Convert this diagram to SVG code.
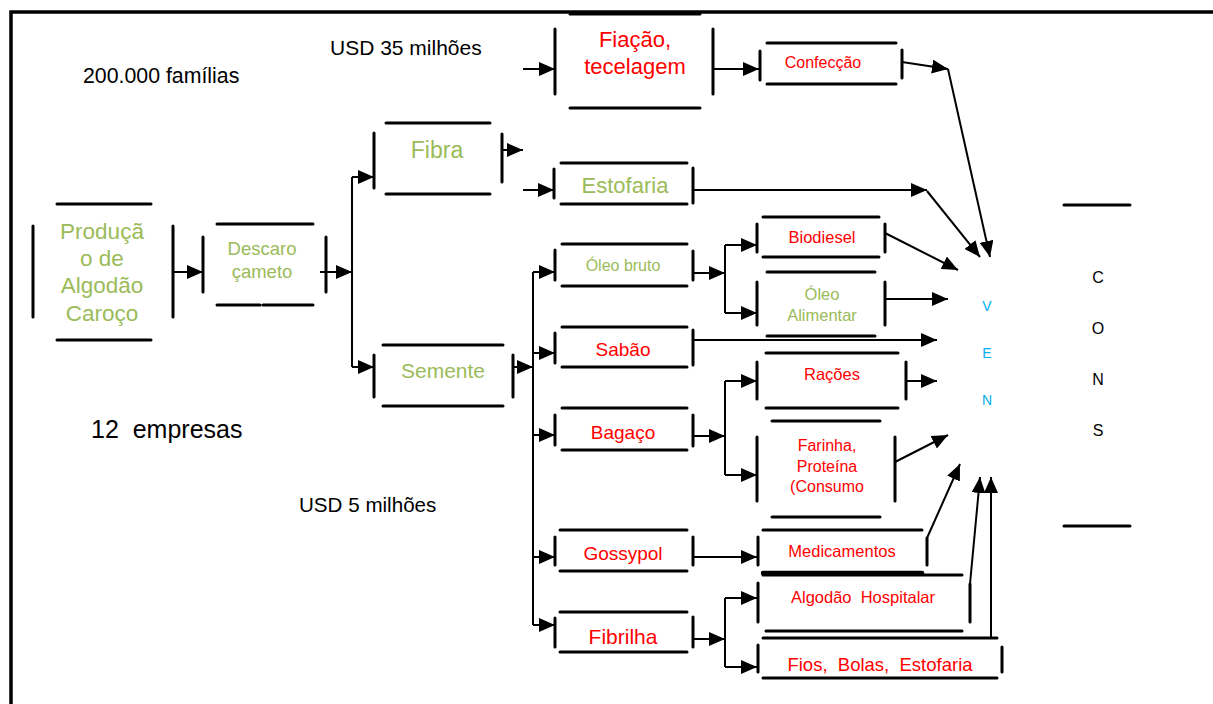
<svg xmlns="http://www.w3.org/2000/svg" width="1213" height="704" viewBox="0 0 1213 704">
<style>
.b{stroke:#000;stroke-width:3;stroke-linecap:round;fill:none}
.c{stroke:#000;stroke-width:2;fill:none}
.t{font-family:"Liberation Sans",Arial,sans-serif;text-anchor:middle}
.g{fill:#9BBB59}
.r{fill:#FF0000}
.k{fill:#000}
.v{fill:#00B0F0}
.n{font-family:"Liberation Sans",Arial,sans-serif;fill:#000}
</style>
<defs>
<marker id="a" markerUnits="userSpaceOnUse" markerWidth="16" markerHeight="14" refX="16" refY="7" orient="auto">
<path d="M0,0 L16,7 L0,14 z" fill="#000"/>
</marker>
</defs>
<rect width="1213" height="704" fill="#fff"/>
<path d="M11,704 V12 H1213" stroke="#000" stroke-width="3.5" fill="none"/>

<text class="n" x="83" y="83" font-size="21.3">200.000 famílias</text>
<text class="n" x="330" y="55" font-size="21">USD 35 milhões</text>
<text class="n" x="91" y="438" font-size="25" xml:space="preserve">12  empresas</text>
<text class="n" x="299" y="512" font-size="20.6">USD 5 milhões</text>

<g id="connectors">
<path class="c" d="M173,272 H203" marker-end="url(#a)"/>
<path class="c" d="M320,272 H352" marker-end="url(#a)"/>
<path class="c" d="M352,177 V367"/>
<path class="c" d="M352,177 H374" marker-end="url(#a)"/>
<path class="c" d="M352,367 H374" marker-end="url(#a)"/>
<path class="c" d="M502,150 H523" marker-end="url(#a)"/>
<path class="c" d="M523,69 H555" marker-end="url(#a)"/>
<path class="c" d="M523,190 H554" marker-end="url(#a)"/>
<path class="c" d="M713,69 H759" marker-end="url(#a)"/>
<path class="c" d="M902,62 L948,69" marker-end="url(#a)"/>
<path class="c" d="M948,69 L990,257" marker-end="url(#a)"/>
<path class="c" d="M693,190 H927" marker-end="url(#a)"/>
<path class="c" d="M927,191 L980,257" marker-end="url(#a)"/>
<path class="c" d="M513,367 H533"  marker-end="url(#a)"/>
<path class="c" d="M533,272 V625"/>
<path class="c" d="M533,272 H555" marker-end="url(#a)"/>
<path class="c" d="M533,353 H555" marker-end="url(#a)"/>
<path class="c" d="M533,435 H555" marker-end="url(#a)"/>
<path class="c" d="M533,557 H555" marker-end="url(#a)"/>
<path class="c" d="M533,625 H555" marker-end="url(#a)"/>
<path class="c" d="M693,273 H725" marker-end="url(#a)"/>
<path class="c" d="M725,245 V313"/>
<path class="c" d="M725,245 H757" marker-end="url(#a)"/>
<path class="c" d="M725,313 H757" marker-end="url(#a)"/>
<path class="c" d="M693,340 H937" marker-end="url(#a)"/>
<path class="c" d="M693,436 H725" marker-end="url(#a)"/>
<path class="c" d="M725,381 V475"/>
<path class="c" d="M725,381 H757" marker-end="url(#a)"/>
<path class="c" d="M725,475 H757" marker-end="url(#a)"/>
<path class="c" d="M693,557 H757" marker-end="url(#a)"/>
<path class="c" d="M693,639 H725" marker-end="url(#a)"/>
<path class="c" d="M725,598 V667"/>
<path class="c" d="M725,598 H757" marker-end="url(#a)"/>
<path class="c" d="M725,667 H757" marker-end="url(#a)"/>
<path class="c" d="M885,233 L958,270" marker-end="url(#a)"/>
<path class="c" d="M885,299 H948" marker-end="url(#a)"/>
<path class="c" d="M906,381 H937" marker-end="url(#a)"/>
<path class="c" d="M895,462 L948,435" marker-end="url(#a)"/>
<path class="c" d="M927,538 L960,464" marker-end="url(#a)"/>
<path class="c" d="M970,584 L980,477" marker-end="url(#a)"/>
<path class="c" d="M991,638 V477" marker-end="url(#a)"/>
</g>

<g id="producao">
<path class="b" d="M57,204 H151 M57,340 H151 M33,226 V317 M173,226 V317"/>
<text class="t g" x="102" font-size="22.5"><tspan x="102" y="239">Produçã</tspan><tspan x="102" y="266">o de</tspan><tspan x="102" y="293">Algodão</tspan><tspan x="102" y="321">Caroço</tspan></text>
</g>
<g id="descarocamento">
<path class="b" d="M217,224 H313 M217,305 H260 M263,305 H313 M203,237 V292 M326,237 V292"/>
<text class="t g" x="262" font-size="18.5"><tspan x="262" y="255">Descaro</tspan><tspan x="262" y="278">çameto</tspan></text>
</g>
<g id="fibra">
<path class="b" d="M386,123 H490 M386,194 H490 M374,133 V188 M502,134 V182"/>
<text class="t g" x="437" y="158" font-size="23">Fibra</text>
</g>
<g id="fiacao">
<path class="b" d="M570,14 H700 M570,108 H700 M555,29 V94 M713,29 V94"/>
<text class="t r" x="635" font-size="22"><tspan x="635" y="47">Fiação,</tspan><tspan x="635" y="74">tecelagem</tspan></text>
</g>
<g id="confeccao">
<path class="b" d="M767,43 H896 M767,84 H896 M760,51 V80 M902,50 V78"/>
<text class="t r" x="823" y="68" font-size="16">Confecção</text>
</g>
<g id="estofaria">
<path class="b" d="M561,163 H687 M561,204 H687 M554,169 V198 M693,168 V203"/>
<text class="t g" x="625" y="193" font-size="22">Estofaria</text>
</g>
<g id="semente">
<path class="b" d="M383,345 H503 M383,406 H503 M374,355 V397 M513,355 V397"/>
<text class="t g" x="443" y="378" font-size="21">Semente</text>
</g>
<g id="oleo-bruto">
<path class="b" d="M562,244 H687 M562,286 H687 M555,250 V280 M693,251 V280"/>
<text class="t g" x="623" y="271" font-size="16">Óleo bruto</text>
</g>
<g id="sabao">
<path class="b" d="M562,327 H687 M562,367 H687 M555,333 V363 M693,330 V365"/>
<text class="t r" x="623" y="356" font-size="19">Sabão</text>
</g>
<g id="bagaco">
<path class="b" d="M562,408 H687 M562,450 H687 M555,415 V445 M693,415 V446"/>
<text class="t r" x="623" y="439" font-size="19">Bagaço</text>
</g>
<g id="gossypol">
<path class="b" d="M560,530 H687 M560,571 H687 M555,537 V565 M693,537 V565"/>
<text class="t r" x="623" y="560" font-size="19">Gossypol</text>
</g>
<g id="fibrilha">
<path class="b" d="M560,612 H687 M560,652 H687 M555,618 V647 M693,617 V647"/>
<text class="t r" x="623" y="644" font-size="21">Fibrilha</text>
</g>
<g id="biodiesel">
<path class="b" d="M763,217 H879 M763,257 H879 M757,224 V252 M885,224 V252"/>
<text class="t r" x="822" y="243" font-size="16.5">Biodiesel</text>
</g>
<g id="oleo-alimentar">
<path class="b" d="M767,272 H875 M767,336 H875 M757,282 V325 M885,282 V325"/>
<text class="t g" x="822" font-size="16.5"><tspan x="822" y="300">Óleo</tspan><tspan x="822" y="321">Alimentar</tspan></text>
</g>
<g id="racoes">
<path class="b" d="M766,353 H898 M766,408 H898 M757,362 V399 M906,362 V399"/>
<text class="t r" x="832" y="380" font-size="16.5">Rações</text>
</g>
<g id="farinha">
<path class="b" d="M772,421 H880 M772,517 H880 M757,437 V501 M895,437 V501"/>
<text class="t r" x="827" font-size="16"><tspan x="827" y="451">Farinha,</tspan><tspan x="827" y="472">Proteína</tspan><tspan x="827" y="492">(Consumo</tspan></text>
</g>
<g id="medicamentos">
<path class="b" d="M763,530 H922 M758,537 V565 M927,538 V565"/>
<path d="M763,573 H922" stroke="#000" stroke-width="4.5" stroke-linecap="round"/>
<text class="t r" x="842" y="557" font-size="16.5">Medicamentos</text>
</g>
<g id="algodao-hospitalar">
<path class="b" d="M763,575 H962 M766,631 H962 M758,583 V622 M970,584 V622"/>
<text class="t r" x="863" y="603" font-size="16.5" xml:space="preserve">Algodão  Hospitalar</text>
</g>
<g id="fios">
<path class="b" d="M763,638 H997 M763,678 H997 M758,645 V672 M1002,647 V672"/>
<text class="t r" x="880" y="671" font-size="18.5" xml:space="preserve">Fios,  Bolas,  Estofaria</text>
</g>
<g id="ven">
<text class="t v" x="987" y="311" font-size="14">V</text>
<text class="t v" x="987" y="358" font-size="14">E</text>
<text class="t v" x="987" y="405" font-size="14">N</text>
</g>
<g id="cons">
<path class="b" d="M1064,205 H1130 M1064,526 H1130"/>
<text class="t k" x="1098" y="283" font-size="16">C</text>
<text class="t k" x="1098" y="334" font-size="16">O</text>
<text class="t k" x="1098" y="385" font-size="16">N</text>
<text class="t k" x="1098" y="436" font-size="16">S</text>
</g>
</svg>
